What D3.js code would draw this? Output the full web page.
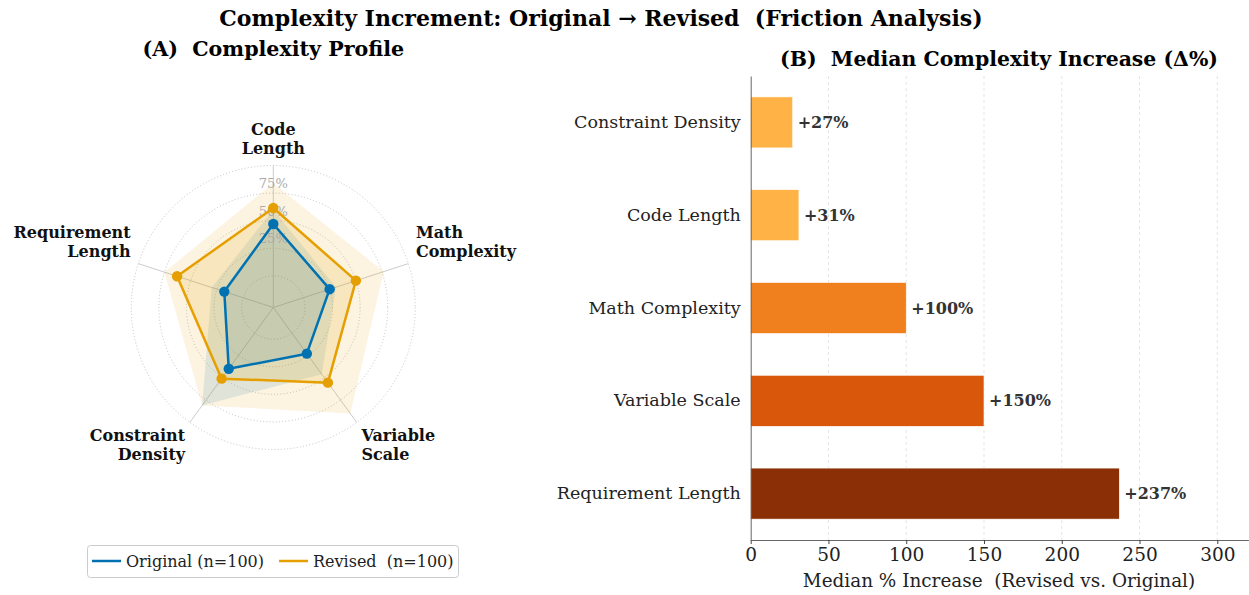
<!DOCTYPE html>
<html>
<head>
<meta charset="utf-8">
<title>Complexity Increment</title>
<style>
  body { margin: 0; background: #fff; }
  svg text { font-family: "DejaVu Serif", serif; white-space: pre; }
</style>
</head>
<body>
<script src="https://cdnjs.cloudflare.com/ajax/libs/d3/7.8.5/d3.min.js"></script>
<script>
// ---- data ----
var radarAxes = ["Code Length", "Math Complexity", "Variable Scale", "Constraint Density", "Requirement Length"];
var radarLabels = [["Code", "Length"], ["Math", "Complexity"], ["Variable", "Scale"], ["Constraint", "Density"], ["Requirement", "Length"]];
var origMedian = [0.47, 0.25, 0.23, 0.40, 0.18];
var origUpper  = [0.60, 0.31, 0.46, 0.81, 0.30];
var revMedian  = [0.615, 0.50, 0.555, 0.51, 0.63];
var revUpper   = [0.84, 0.765, 0.90, 0.81, 0.75];
var radarTicks = [0.25, 0.5, 0.75];
var radarTickLabels = ["25%", "50%", "75%"];

var barCats   = ["Constraint Density", "Code Length", "Math Complexity", "Variable Scale", "Requirement Length"];
var barValues = [27, 31, 100, 150, 237];
var barColors = ["#FFB347", "#FFB347", "#F0801E", "#D9570A", "#8B3006"];
var xTicks    = [0, 50, 100, 150, 200, 250, 300];

var BLUE = "#0072B2", ORANGE = "#E69F00";

var W = 1249, H = 595;
var svg = d3.select("body").append("svg").attr("width", W).attr("height", H);

// titles
svg.append("text").attr("x", 601).attr("y", 26).attr("text-anchor", "middle")
  .attr("font-size", 22).attr("font-weight", "bold")
  .text("Complexity Increment: Original \u2192 Revised  (Friction Analysis)");

// ---- (A) radar ----
var cx = 273.3, cy = 307.5;
var r = d3.scaleLinear().domain([-0.287, 1]).range([0, 142]);
var n = radarAxes.length;
function ang(i) { return Math.PI / 2 - i * 2 * Math.PI / n; }
function pt(v, i) { return [cx + r(v) * Math.cos(ang(i)), cy - r(v) * Math.sin(ang(i))]; }

var radar = svg.append("g");
radar.append("text").attr("x", cx).attr("y", 56).attr("text-anchor", "middle")
  .attr("font-size", 20.6).attr("font-weight", "bold").text("(A)  Complexity Profile");

// circles
[0, 0.25, 0.5, 0.75, 1].forEach(function(v) {
  radar.append("circle").attr("cx", cx).attr("cy", cy).attr("r", r(v))
    .attr("fill", "none").attr("stroke", "#bbb").attr("stroke-width", 0.9)
    .attr("stroke-dasharray", "1,2.2");
});
// spokes
radarAxes.forEach(function(a, i) {
  var p = pt(1, i);
  radar.append("line").attr("x1", cx).attr("y1", cy).attr("x2", p[0]).attr("y2", p[1])
    .attr("stroke", "#ccc").attr("stroke-width", 1);
});

var poly = function(vals) { return vals.map(pt).map(function(p) { return p.join(","); }).join(" "); };
var series = [
  {median: origMedian, upper: origUpper, color: BLUE},
  {median: revMedian, upper: revUpper, color: ORANGE}
];
series.forEach(function(s) {
  radar.append("polygon").attr("points", poly(s.upper)).attr("fill", s.color).attr("fill-opacity", 0.12);
  radar.append("polygon").attr("points", poly(s.median)).attr("fill", s.color).attr("fill-opacity", 0.15);
});

// tick labels
radarTicks.forEach(function(v, k) {
  radar.append("text").attr("x", cx).attr("y", cy - r(v) - 5).attr("text-anchor", "middle")
    .attr("font-size", 13).attr("fill", "#aaa").text(radarTickLabels[k]);
});

series.forEach(function(s) {
  radar.append("polygon").attr("points", poly(s.median)).attr("fill", "none")
    .attr("stroke", s.color).attr("stroke-width", 2.5).attr("stroke-linejoin", "round");
  s.median.forEach(function(v, i) {
    var p = pt(v, i);
    radar.append("circle").attr("cx", p[0]).attr("cy", p[1]).attr("r", 5.2).attr("fill", s.color);
  });
});

// axis labels
radarLabels.forEach(function(lines, i) {
  var a = ang(i), R = 150;
  var ax = cx + R * Math.cos(a), ay = cy - R * Math.sin(a);
  var anchor = Math.cos(a) > 0.1 ? "start" : (Math.cos(a) < -0.1 ? "end" : "middle");
  var lh = 19;
  var first = Math.sin(a) > 0 ? ay - 4 - lh * (lines.length - 1) : ay + 12;
  var t = radar.append("text").attr("text-anchor", anchor).attr("font-size", 16)
    .attr("font-weight", "bold").attr("fill", "#111");
  lines.forEach(function(l, j) {
    t.append("tspan").attr("x", ax).attr("y", first + j * lh).text(l);
  });
});

// legend
var lg = svg.append("g");
lg.append("rect").attr("x", 87.5).attr("y", 545.5).attr("width", 371).attr("height", 32).attr("rx", 3)
  .attr("fill", "#fff").attr("stroke", "#ccc");
[["Original (n=100)", BLUE, 92], ["Revised  (n=100)", ORANGE, 279]].forEach(function(d) {
  lg.append("line").attr("x1", d[2]).attr("x2", d[2] + 29).attr("y1", 561).attr("y2", 561)
    .attr("stroke", d[1]).attr("stroke-width", 2.5);
  lg.append("text").attr("x", d[2] + 34).attr("y", 566.5).attr("font-size", 16).attr("fill", "#222").text(d[0]);
});

// ---- (B) bars ----
var bx0 = 750.7, by0 = 76, by1 = 540;
var x = d3.scaleLinear().domain([0, 320]).range([bx0, 1248.4]);
var y = d3.scaleBand().domain(barCats).range([by0, by1]).paddingInner(0.45).paddingOuter(0.225);

var bars = svg.append("g");
bars.append("text").attr("x", 999).attr("y", 66).attr("text-anchor", "middle")
  .attr("font-size", 20.4).attr("font-weight", "bold").text("(B)  Median Complexity Increase (\u0394%)");

// grid
xTicks.slice(1).forEach(function(t) {
  bars.append("line").attr("x1", x(t)).attr("x2", x(t)).attr("y1", by0).attr("y2", by1)
    .attr("stroke", "#ddd").attr("stroke-width", 0.8).attr("stroke-dasharray", "3,3");
});

bars.selectAll(".bar").data(barCats).enter().append("rect")
  .attr("class", "bar")
  .attr("x", x(0))
  .attr("y", function(d) { return y(d); })
  .attr("width", function(d, i) { return x(barValues[i]) - x(0); })
  .attr("height", y.bandwidth())
  .attr("fill", function(d, i) { return barColors[i]; })
  .attr("stroke", "#fff").attr("stroke-width", 0.6);

bars.selectAll(".val").data(barCats).enter().append("text")
  .attr("x", function(d, i) { return x(barValues[i]) + 5; })
  .attr("y", function(d) { return y(d) + y.bandwidth() / 2 + 5.5; })
  .attr("font-size", 16).attr("font-weight", "bold").attr("fill", "#333")
  .text(function(d, i) { return "+" + barValues[i] + "%"; });

// y axis
var yAxis = bars.append("g").attr("transform", "translate(" + bx0 + ",0)")
  .call(d3.axisLeft(y).tickSize(0).tickPadding(10));
yAxis.select(".domain").attr("stroke", "#666");
yAxis.selectAll("text").attr("font-size", 17.5).attr("fill", "#222").attr("font-family", "DejaVu Serif");

// x axis
var xAxis = bars.append("g").attr("transform", "translate(0," + by1 + ")")
  .call(d3.axisBottom(x).tickValues(xTicks).tickSize(4).tickPadding(4).tickSizeOuter(0));
xAxis.select(".domain").attr("stroke", "#666");
xAxis.selectAll(".tick line").attr("stroke", "#444");
xAxis.selectAll("text").attr("font-size", 18.5).attr("fill", "#222").attr("font-family", "DejaVu Serif");

bars.append("text").attr("x", 999).attr("y", 587).attr("text-anchor", "middle")
  .attr("font-size", 18.4).attr("fill", "#222").text("Median % Increase  (Revised vs. Original)");
</script>
</body>
</html>
